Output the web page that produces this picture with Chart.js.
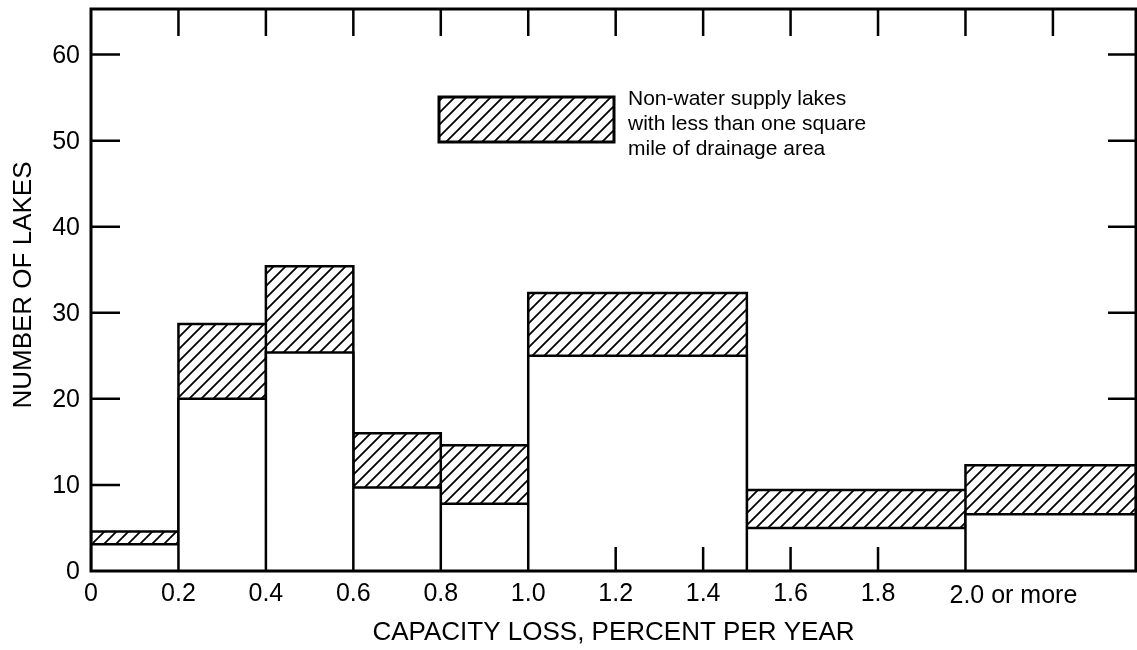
<!DOCTYPE html>
<html lang="en">
<head>
  <meta charset="UTF-8">
  <title>Capacity loss of lakes</title>
  <script src="https://cdn.jsdelivr.net/npm/chart.js@4.4.0/dist/chart.umd.min.js"></script>
  <style>
    body { margin: 0; background: #fff; }
    #wrap { width: 1137px; height: 650px; }
  </style>
</head>
<body>
<div id="wrap"><canvas id="chart" width="1137" height="650"></canvas></div>

<script>
  // bins (percent per year); last bin is "2.0 or more" and runs to the frame
  const binStart = [0, 0.2, 0.4, 0.6, 0.8, 1.0, 1.5, 2.0];
  const binEnd   = [0.2, 0.4, 0.6, 0.8, 1.0, 1.5, 2.0, 2.39];
  // white part of each bar (other lakes) and top of the hatched part
  const otherLakes = [3.1, 20.0, 25.4, 9.7, 7.8, 25.0, 5.0, 6.6];
  const allLakes   = [4.6, 28.7, 35.4, 16.0, 14.6, 32.3, 9.4, 12.3];

  const yTicks = [0, 10, 20, 30, 40, 50, 60];
  const rightTicks = [20, 30, 40, 50, 60];
  const xTickVals = [0, 0.2, 0.4, 0.6, 0.8, 1.0, 1.2, 1.4, 1.6, 1.8, 2.0];
  const xTickLabels = ['0', '0.2', '0.4', '0.6', '0.8', '1.0', '1.2', '1.4', '1.6', '1.8', '2.0 or more'];
  const topTicks = [0.2, 0.4, 0.6, 0.8, 1.0, 1.2, 1.4, 1.6, 1.8, 2.0, 2.2];
  const bottomTicks = [1.2, 1.4, 1.6, 1.8];
  const legendLines = ['Non-water supply lakes', 'with less than one square', 'mile of drainage area'];

  const FONT = '"Liberation Sans", Arial, sans-serif';

  // diagonal hatch
  const tile = document.createElement('canvas');
  tile.width = tile.height = 12;
  const tc = tile.getContext('2d');
  tc.fillStyle = '#fff'; tc.fillRect(0, 0, 12, 12);
  tc.strokeStyle = '#000'; tc.lineWidth = 1.8;
  tc.beginPath();
  tc.moveTo(0, 12); tc.lineTo(12, 0);
  tc.moveTo(-6, 6); tc.lineTo(6, -6);
  tc.moveTo(6, 18); tc.lineTo(18, 6);
  tc.stroke();
  const ctx = document.getElementById('chart').getContext('2d');
  const hatch = ctx.createPattern(tile, 'repeat');

  // each bar outlined down to zero
  function outline(tops) {
    const pts = [];
    binStart.forEach((x0, i) => {
      pts.push({x: x0, y: 0}, {x: x0, y: tops[i]}, {x: binEnd[i], y: tops[i]}, {x: binEnd[i], y: 0});
    });
    return pts;
  }

  const decor = {
    id: 'decor',
    afterDraw(chart) {
      const c = chart.ctx, a = chart.chartArea;
      const xs = chart.scales.x, ys = chart.scales.y;
      c.save();
      c.strokeStyle = '#000';
      c.fillStyle = '#000';

      // frame
      c.lineWidth = 3;
      c.strokeRect(a.left, a.top, a.right - a.left, a.bottom - a.top);

      // inward ticks
      c.lineWidth = 2.5;
      c.beginPath();
      yTicks.slice(1).forEach(v => {
        const y = ys.getPixelForValue(v);
        c.moveTo(a.left, y); c.lineTo(a.left + 29, y);
      });
      rightTicks.forEach(v => {
        const y = ys.getPixelForValue(v);
        c.moveTo(a.right, y); c.lineTo(a.right - 28, y);
      });
      topTicks.forEach(v => {
        const x = xs.getPixelForValue(v);
        c.moveTo(x, a.top); c.lineTo(x, a.top + 27);
      });
      bottomTicks.forEach(v => {
        const x = xs.getPixelForValue(v);
        c.moveTo(x, a.bottom); c.lineTo(x, a.bottom - 24);
      });
      c.stroke();

      c.font = '25px ' + FONT;
      c.textBaseline = 'middle';
      // y tick labels
      c.textAlign = 'right';
      yTicks.forEach(v => c.fillText(String(v), a.left - 11, ys.getPixelForValue(v) + 1));
      // x tick labels
      xTickVals.forEach((v, i) => {
        const x = xs.getPixelForValue(v);
        if (i === xTickVals.length - 1) {
          c.textAlign = 'left';
          c.fillText(xTickLabels[i], x - 16, 596);
        } else {
          c.textAlign = 'center';
          c.fillText(xTickLabels[i], x, 594);
        }
      });

      // axis titles
      c.font = '26px ' + FONT;
      c.textAlign = 'center';
      c.fillText('CAPACITY LOSS, PERCENT PER YEAR', (a.left + a.right) / 2, 633);
      c.save();
      c.translate(24, 285);
      c.rotate(-Math.PI / 2);
      c.fillText('NUMBER OF LAKES', 0, 0);
      c.restore();

      // legend
      c.fillStyle = hatch;
      c.fillRect(439, 97, 175, 45);
      c.lineWidth = 3;
      c.strokeRect(439, 97, 175, 45);
      c.fillStyle = '#000';
      c.font = '21px ' + FONT;
      c.textAlign = 'left';
      legendLines.forEach((t, i) => c.fillText(t, 628, 99 + i * 25));
      c.restore();
    }
  };

  new Chart(ctx, {
    type: 'line',
    data: {
      datasets: [
        { label: 'Other lakes', data: outline(otherLakes), fill: 'origin',
          backgroundColor: '#fff', borderColor: '#000', borderWidth: 2.5 },
        { label: 'Non-water supply lakes, < 1 sq mi drainage', data: outline(allLakes), fill: 'origin',
          backgroundColor: hatch, borderColor: '#000', borderWidth: 2.5 }
      ]
    },
    options: {
      responsive: false,
      animation: false,
      layout: { padding: { left: 91, top: 9, right: 1, bottom: 79 } },
      elements: { point: { radius: 0 }, line: { tension: 0, borderJoinStyle: 'miter' } },
      plugins: { legend: { display: false }, tooltip: { enabled: false } },
      scales: {
        x: { type: 'linear', min: 0, max: 2.39, display: false },
        y: { type: 'linear', min: 0, max: 65.3, display: false }
      }
    },
    plugins: [decor]
  });
</script>
</body>
</html>
